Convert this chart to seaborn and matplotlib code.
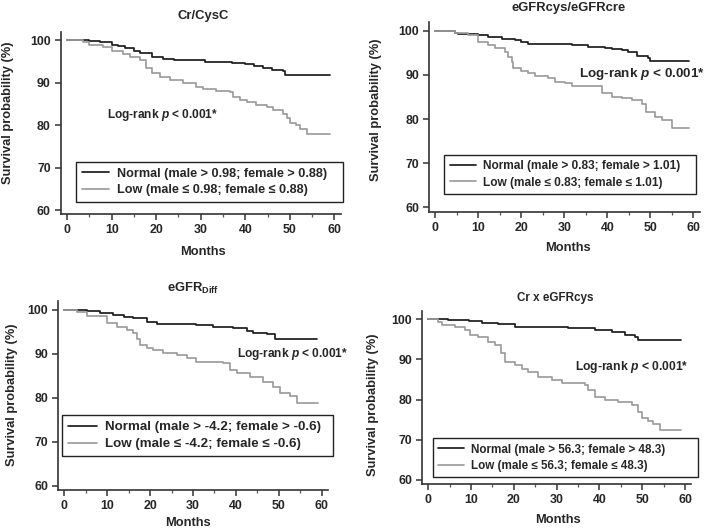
import numpy as np
import pandas as pd
import matplotlib
matplotlib.use("Agg")
import matplotlib.pyplot as plt
import seaborn as sns

# ---------------- data ----------------
titles = ["Cr/CysC", "eGFRcys/eGFRcre", r"eGFR$_{\mathrm{Diff}}$", "Cr x eGFRcys"]

normal_labels = ["Normal (male > 0.98; female > 0.88)",
                 "Normal (male > 0.83; female > 1.01)",
                 "Normal (male > -4.2; female > -0.6)",
                 "Normal (male > 56.3; female > 48.3)"]
low_labels = ["Low (male \u2264 0.98; female \u2264 0.88)",
              "Low (male \u2264 0.83; female \u2264 1.01)",
              "Low (male \u2264 -4.2; female \u2264 -0.6)",
              "Low (male \u2264 56.3; female \u2264 48.3)"]

p1_normal_t = [0, 5, 7.3, 10, 11.5, 13, 15, 16.3, 19, 21.5, 24, 31, 37, 40, 42, 44, 46, 48.5, 49, 59]
p1_normal_s = [100, 99.8, 99.5, 98.8, 98.5, 98.2, 97.3, 96.9, 96.1, 95.5, 95.2, 94.9, 94.6, 94.3, 93.9, 93.4, 92.9, 92.6, 91.7, 91.7]
p1_low_t = [0, 3.5, 5, 8, 10, 12.5, 14, 16.3, 17.8, 19, 20.8, 23, 26, 29, 30.5, 33.5, 36.5, 37.3, 38.8, 40.3,
            42.5, 44.8, 46.3, 48.5, 49.3, 50, 51.5, 52.3, 53.8, 59]
p1_low_s = [100, 99.6, 98.8, 98.4, 97.3, 96.7, 96.1, 95.3, 93.3, 92.2, 91.4, 90.6, 89.8, 88.9, 88.4, 88.1, 87.8, 86.6, 85.9, 85.3,
            84.7, 84.2, 83.5, 82.7, 81.6, 80.4, 80.0, 79.0, 77.8, 77.8]

p2_normal_t = [0, 4.6, 5.3, 10, 12.3, 15.4, 18.5, 20, 21.6, 31.7, 35.6, 39.5, 41, 43.3, 44.9, 46.8, 49.5, 50, 59]
p2_normal_s = [100, 99.6, 99.2, 99.0, 98.6, 98.2, 97.9, 97.5, 97.1, 96.8, 96.4, 96.2, 95.8, 95.6, 95.1, 94.3, 93.8, 93.2, 93.2]
p2_low_t = [0, 4.6, 7.7, 10, 12.3, 13.9, 16.2, 17, 17.8, 18.1, 20, 21.6, 23.2, 26.3, 27.8, 30.2, 31.7, 38.7,
            41, 43.3, 45.7, 48, 49.1, 51, 52.6, 55, 59]
p2_low_s = [100, 99.4, 99.0, 97.5, 96.8, 96.0, 95.2, 94.1, 93.0, 91.5, 90.9, 90.5, 89.7, 89.2, 88.5, 88.1, 87.4, 85.8,
            85.1, 84.7, 84.3, 83.5, 81.7, 80.5, 79.8, 78.0, 78.0]

p3_normal_t = [0, 5.2, 8.3, 11.4, 13.8, 16.1, 19.2, 21.5, 30.8, 34.7, 39.4, 42.5, 44, 47.2, 49.1, 59]
p3_normal_s = [100, 99.8, 99.2, 98.9, 98.5, 98.1, 97.3, 96.9, 96.6, 96.2, 95.8, 95.1, 94.7, 94.5, 93.3, 93.3]
p3_low_t = [0, 2.9, 5.2, 9.9, 12.2, 14.5, 16.1, 16.9, 17.6, 19.2, 20.7, 23.1, 26.2, 28.5, 30.8, 37.1, 38.6, 40.2,
            43.3, 46.4, 48.7, 50.3, 52.6, 54.2, 59.2]
p3_low_s = [100, 99.6, 98.7, 97.0, 96.2, 95.4, 94.7, 93.5, 92.0, 91.3, 90.9, 90.1, 89.7, 89.0, 88.2, 87.9, 86.3, 85.6,
            84.8, 83.7, 82.5, 81.0, 80.3, 78.8, 78.8]

p4_normal_t = [0, 4.7, 9.4, 12.5, 16.4, 20.3, 32.7, 39, 42.9, 46, 48.3, 49.1, 59]
p4_normal_s = [100, 99.8, 99.5, 99.1, 98.7, 98.0, 97.8, 97.4, 96.9, 96.0, 95.6, 94.8, 94.8]
p4_low_t = [0, 2.3, 3.1, 6.2, 8.6, 9.7, 11.7, 14, 15.6, 17.1, 17.9, 20.3, 21.8, 23.4, 25.7, 28.8, 31.2, 36.6, 37.4, 39,
            41.3, 44.4, 47.5, 49.1, 49.9, 51.4, 52.6, 54.2, 59]
p4_low_s = [100, 99.3, 98.5, 98.1, 97.3, 96.0, 95.6, 94.4, 93.5, 91.5, 89.4, 88.6, 87.7, 86.9, 85.7, 84.9, 84.1, 83.6, 82.4, 80.7,
            79.9, 79.5, 78.6, 77.0, 75.3, 74.7, 73.8, 72.3, 72.3]

x_ticks = [0, 10, 20, 30, 40, 50, 60]
y_ticks = [60, 70, 80, 90, 100]
logrank_text = r"Log-rank $p$ < 0.001*"

series = [(p1_normal_t, p1_normal_s, p1_low_t, p1_low_s),
          (p2_normal_t, p2_normal_s, p2_low_t, p2_low_s),
          (p3_normal_t, p3_normal_s, p3_low_t, p3_low_s),
          (p4_normal_t, p4_normal_s, p4_low_t, p4_low_s)]

# ---------------- layout (pixels in a 709x531 canvas) ----------------
W, H = 709, 531
axes_px = [(60.5, 31.5, 341.0, 214.3),
           (428.9, 21.9, 699.8, 211.9),
           (57.9, 301.2, 328.1, 490.0),
           (421.9, 311.0, 691.4, 484.0)]
legend_px = [(76, 162, 343, 199),
             (444.3, 155, 695.7, 192.3),
             (61.7, 415, 332.7, 457.7),
             (432.7, 438.3, 697.7, 475.7)]
legend_fs = [9.1, 8.6, 9.6, 8.4]
logrank_fs = [8.6, 9.7, 8.6, 8.7]
title_fs = [9.4, 9.4, 9.4, 8.4]
logrank_px = [(106.7, 115), (579, 74), (236.7, 354), (575, 366.7)]
title_px = [(203.3, 16), (568.3, 8.3), (193.3, 288.3), (555, 298.3)]
ylabel_px = [(8.3, 113), (375.7, 110), (11.7, 395), (373.3, 405)]
xlabel_px = [(203, 251.7), (568, 248.3), (188, 523), (558, 520)]

BLACK = "#1c1c1c"
GRAY = "#9c9c9c"

sns.set_style("ticks")
plt.rcParams["font.family"] = ["Liberation Sans", "DejaVu Sans"]
plt.rcParams["font.weight"] = "bold"
plt.rcParams["mathtext.fontset"] = "custom"
plt.rcParams["mathtext.rm"] = "Liberation Sans:bold"
plt.rcParams["mathtext.bf"] = "Liberation Sans:bold"
plt.rcParams["mathtext.it"] = "Liberation Sans:italic:bold"

fig = plt.figure(figsize=(W / 100, H / 100), dpi=100)
fig.patch.set_facecolor("white")

def fx(x):
    return x / W

def fy(y):
    return 1 - y / H

for i in range(4):
    l, t, r, b = axes_px[i]
    ax = fig.add_axes([fx(l), fy(b), (r - l) / W, (b - t) / H])
    nt, ns, lt, ls = series[i]
    df = pd.concat([
        pd.DataFrame({"month": nt, "surv": ns, "group": normal_labels[i]}),
        pd.DataFrame({"month": lt, "surv": ls, "group": low_labels[i]}),
    ], ignore_index=True)
    sns.lineplot(data=df, x="month", y="surv", hue="group",
                 hue_order=[normal_labels[i], low_labels[i]],
                 palette=[BLACK, GRAY], drawstyle="steps-post",
                 estimator=None, sort=False, linewidth=1.25, legend=False, ax=ax)
    ax.set_xlim(-1.5, 61.5)
    ax.set_ylim(59, 102)
    ax.set_xticks(x_ticks)
    ax.set_xticks([5, 15, 25, 35, 45, 55], minor=True)
    ax.set_yticks(y_ticks)
    ax.tick_params(axis="both", which="major", length=4, width=1.1, color="#333333",
                   labelsize=8.9, pad=3)
    ax.tick_params(axis="x", which="minor", length=2.2, width=0.9, color="#555555")
    for lab in ax.get_xticklabels() + ax.get_yticklabels():
        lab.set_fontweight("bold")
    for s in ["top", "right"]:
        ax.spines[s].set_visible(False)
    for s in ["left", "bottom"]:
        ax.spines[s].set_linewidth(1.2)
        ax.spines[s].set_color("#333333")
    ax.set_facecolor("white")

    ax.set_xlabel("Months", fontsize=9.3, fontweight="bold")
    ax.set_ylabel("Survival probability (%)", fontsize=9.3, fontweight="bold")
    ax.xaxis.set_label_coords(fx(xlabel_px[i][0]), fy(xlabel_px[i][1]), transform=fig.transFigure)
    ax.xaxis.label.set_va("center")
    ax.yaxis.set_label_coords(fx(ylabel_px[i][0]), fy(ylabel_px[i][1]), transform=fig.transFigure)
    ax.yaxis.label.set_va("center")

    fig.text(fx(title_px[i][0]), fy(title_px[i][1]), titles[i], ha="center", va="center",
             fontsize=title_fs[i], fontweight="bold")
    fig.text(fx(logrank_px[i][0]), fy(logrank_px[i][1]), logrank_text, ha="left", va="center",
             fontsize=logrank_fs[i], fontweight="bold")

    ll, lt_, lr, lb = legend_px[i]
    handles = ax.lines[:2]
    leg = ax.legend(handles=handles, labels=[normal_labels[i], low_labels[i]],
                    loc="upper left", mode="expand",
                    bbox_to_anchor=(fx(ll), fy(lb), (lr - ll) / W, (lb - lt_) / H),
                    bbox_transform=fig.transFigure, borderaxespad=0,
                    prop={"weight": "bold", "size": legend_fs[i]},
                    frameon=True, fancybox=False, handlelength=2.2, handletextpad=0.6,
                    borderpad=0.45, labelspacing=0.35)
    fr = leg.get_frame()
    fr.set_edgecolor("#222222")
    fr.set_linewidth(1.0)
    fr.set_facecolor("white")
    fr.set_alpha(1)

fig.savefig("out.png", dpi=100, facecolor="white")
